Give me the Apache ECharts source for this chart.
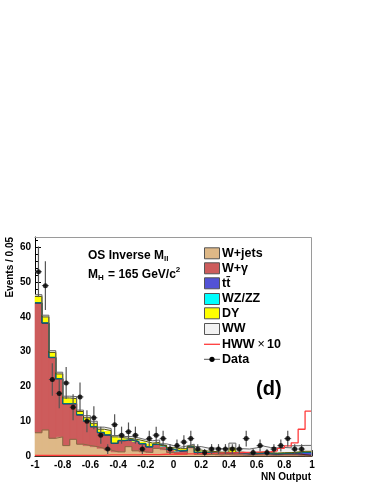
<!DOCTYPE html>
<html><head><meta charset="utf-8">
<script src="https://cdn.jsdelivr.net/npm/echarts@6/dist/echarts.min.js"></script>
<style>html,body{margin:0;padding:0;background:#fff}#c{width:374px;height:484px}</style>
</head><body><div id="c"></div>
<script>
// ---- data ----
const binLow = [-1,-0.95,-0.9,-0.85,-0.8,-0.75,-0.7,-0.65,-0.6,-0.55,-0.5,-0.45,-0.4,-0.35,-0.3,-0.25,-0.2,-0.15,-0.1,-0.05,
                0,0.05,0.1,0.15,0.2,0.25,0.3,0.35,0.4,0.45,0.5,0.55,0.6,0.65,0.7,0.75,0.8,0.85,0.9,0.95];
const binWidth = 0.05;
const wjets  = [6.7,7.5,5.1,5.5,3.0,4.8,3.4,3.0,2.7,2.2,1.7,1.2,1.2,2.7,1.5,1.2,1.0,2.2,1.8,1.0,
                0.6,0.5,2.4,0.5,0.4,0.5,0.3,0.4,0.3,0.3,0.2,0.3,0.3,0.3,0.2,0.3,0.3,0.3,0.2,0.1];
const wgamma = [37.3,30.7,23.2,16.7,12.0,10.2,8.4,7.0,5.7,4.5,4.3,2.4,3.2,1.9,2.6,2.3,1.6,1.1,1.0,0.9,
                0.8,1.0,0.2,0.5,0.5,0.5,0.4,0.4,0.6,0.5,0.4,0.3,0.4,0.3,0.3,0.3,0.3,0.3,0.2,0.1];
const ttbar  = [0.05,0.05,0.05,0.05,0.05,0.05,0.05,0.05,0.05,0.05,0.05,0.05,0.05,0.05,0.05,0.05,0.05,0.05,0.05,0.05,
                0.05,0.05,0.05,0.05,0.05,0.05,0.05,0.05,0.05,0.05,0.05,0.1,0.1,0.1,0.1,0.1,0.2,0.3,0.6,0.8];
const wzzz   = [0.05,0.05,0.05,0.05,0.05,0.05,0.05,0.05,0.05,0.05,0.05,0.05,0.05,0.05,0.05,0.05,0.05,0.05,0.05,0.05,
                0.05,0.05,0.05,0.05,0.05,0.05,0.05,0.05,0.05,0.05,0.05,0.05,0.05,0.05,0.05,0.05,0.05,0.05,0.05,0.05];
const dy     = [1.8,1.7,1.4,1.3,1.6,1.4,0.9,0.9,0.9,0.9,1.2,1.8,0.7,0.3,0.5,0.6,1.0,0.5,0.2,0.4,
                0.6,0.5,0.2,0.6,0.4,0.2,0.3,0.2,1.3,0.2,0.2,0.2,0.2,0.2,0.2,0.2,0.1,0.2,0.3,0.3];
const ww     = [0.5,0.5,0.5,0.5,0.5,0.6,0.4,0.6,0.6,0.6,0.6,0.4,0.4,0.6,0.5,0.5,0.7,0.7,0.4,0.6,
                0.4,0.8,0.5,1.0,0.9,1.0,1.0,1.1,1.4,1.0,1.1,1.4,1.8,1.5,1.5,1.5,1.4,1.8,1.7,1.7];
const hww10  = [0.2,0.2,0.2,0.2,0.2,0.2,0.2,0.2,0.2,0.2,0.3,0.3,0.3,0.3,0.3,0.4,0.4,0.4,0.5,0.5,
                0.5,0.6,0.6,0.7,0.7,0.8,0.8,0.9,0.9,1.0,1.0,1.1,1.2,1.2,1.5,2.2,2.9,3.8,7.7,12.9];
const dataObs = [53,49,22,18,21,14,17,10,11,6,2,9,6,7,6,2,5,6,5,2,
                 3,4,5,2,1,2,2,2,2,2,5,1,3,1,2,3,5,2,2,0];
const yTicks = [0,10,20,30,40,50,60];
const xTicks = [-1,-0.8,-0.6,-0.4,-0.2,0,0.2,0.4,0.6,0.8,1];

// ---- styles ----
const FONT = '"Liberation Sans", Arial, Helvetica, sans-serif';
const comps = [
  {name:'W+jets', vals:wjets,  fill:'#deb887', line:'#8a6a45'},
  {name:'W+γ',    vals:wgamma, fill:'#cd5c5c', line:'#5a1e1e'},
  {name:'tt̄',     vals:ttbar,  fill:'#5252d6', line:'#22227a'},
  {name:'WZ/ZZ',  vals:wzzz,   fill:'#00ffff', line:'#007777'},
  {name:'DY',     vals:dy,     fill:'#ffff00', line:'#555500'},
  {name:'WW',     vals:ww,     fill:'#f2f2f2', line:'#666666'}
];

const chart = echarts.init(document.getElementById('c'), null, {renderer:'canvas'});
const series = [];
let base = binLow.map(() => 0);
comps.forEach((c, ci) => {
  const rects = binLow.map((x, i) => [x, x + binWidth, base[i], base[i] + c.vals[i]]);
  const tops = rects.map(r => r[3]);
  series.push({
    type:'custom', z: 2, silent:true,
    renderItem: (params, api) => {
      const p0 = api.coord([api.value(0), api.value(3)]);
      const p1 = api.coord([api.value(1), api.value(2)]);
      const xa = Math.round(p0[0]), xb = Math.round(p1[0]);
      return {type:'rect', shape:{x:xa, y:p0[1], width:xb-xa, height:p1[1]-p0[1]},
              style:{fill:c.fill, stroke:c.fill, lineWidth:0.6}};
    },
    data: rects
  });
  const outline = binLow.map((x, i) => [x, tops[i]]);
  outline.push([1, tops[tops.length-1]]);
  series.push({
    type:'line', step:'end', z: 3, silent:true, symbol:'none',
    lineStyle:{color:c.line, width:1},
    data: outline
  });
  base = tops;
});
// HWW x10
const hwwLine = binLow.map((x, i) => [x, hww10[i]]);
hwwLine.push([1, hww10[hww10.length-1]]);
series.push({type:'line', step:'end', z:4, silent:true, symbol:'none',
  lineStyle:{color:'#ff3b3b', width:1.3}, data:hwwLine});
// data points + errors
const pts = binLow.map((x, i) => [x + binWidth/2, dataObs[i]]).filter(p => p[1] > 0);
series.push({
  type:'custom', z:5, silent:true,
  renderItem: (params, api) => {
    const x = api.value(0), v = api.value(1), e = Math.sqrt(v);
    const top = api.coord([x, v + e]), bot = api.coord([x, Math.max(0, v - e)]);
    const l = api.coord([x - binWidth/2, v]), r = api.coord([x + binWidth/2, v]);
    return {type:'group', children:[
      {type:'line', shape:{x1:top[0], y1:top[1], x2:bot[0], y2:bot[1]}, style:{stroke:'#555', lineWidth:1.2}},
      {type:'line', shape:{x1:l[0], y1:l[1], x2:r[0], y2:r[1]}, style:{stroke:'#555', lineWidth:1}}
    ]};
  },
  data: pts
});
series.push({type:'scatter', z:6, silent:true, symbol:'circle', symbolSize:5,
  itemStyle:{color:'#000'}, data: pts});

// ---- text helpers ----
const mctx = document.createElement('canvas').getContext('2d');
function tw(str, size){ mctx.font = 'bold ' + size + 'px ' + FONT; return mctx.measureText(str).width; }
function T(x, y, str, size, extra){
  return Object.assign({type:'text', x:x, y:y, silent:true,
    style:Object.assign({text:str, font:'bold ' + size + 'px ' + FONT, fill:'#000',
      textVerticalAlign:'middle', textAlign:'left'}, extra||{})});
}
const g = [];
// labels
let x0 = 88, fs = 12;
g.push(T(x0, 256, 'OS Inverse M', fs));
g.push(T(x0 + tw('OS Inverse M', fs), 259, 'll', 8));
g.push(T(x0, 275, 'M', fs));
let xx = x0 + tw('M', fs);
g.push(T(xx, 278, 'H', 8));
xx += tw('H', 8) + 1;
g.push(T(xx, 275, ' = 165 GeV/c', fs));
xx += tw(' = 165 GeV/c', fs);
g.push(T(xx, 270, '2', 8));
g.push(T(256, 389, '(d)', 20));
g.push(T(311, 477, 'NN Output', 10, {textAlign:'right'}));
g.push({type:'text', x:10, y:237, rotation:Math.PI/2, silent:true,
  style:{text:'Events / 0.05', font:'bold 10px ' + FONT, fill:'#000', textAlign:'right', textVerticalAlign:'middle'}});
// legend
const legY = [253.3, 268.3, 283.3, 299, 313.3, 329, 344.3, 359.3];
comps.forEach((c, i) => {
  g.push({type:'rect', silent:true, shape:{x:204.5, y:legY[i]-5.5, width:15, height:11},
    style:{fill:c.fill, stroke:'#555', lineWidth:1}});
  g.push(T(222, legY[i], c.name, 12.5));
});
g.push({type:'line', silent:true, shape:{x1:204, y1:legY[6], x2:220, y2:legY[6]}, style:{stroke:'#ff3b3b', lineWidth:1.3}});
g.push(T(222, legY[6], 'HWW', 12.5));
g.push(T(222 + tw('HWW', 12.5) + 3, legY[6], '×', 12.5, {font:'12.5px ' + FONT}));
g.push(T(222 + tw('HWW', 12.5) + 3 + tw('×', 12.5) + 2, legY[6], '10', 12.5));
g.push({type:'line', silent:true, shape:{x1:204, y1:legY[7], x2:220, y2:legY[7]}, style:{stroke:'#555', lineWidth:1}});
g.push({type:'circle', silent:true, shape:{cx:212, cy:legY[7], r:2.6}, style:{fill:'#000'}});
g.push(T(222, legY[7], 'Data', 12.5));
// frame (top/right)
g.push({type:'polyline', silent:true, z:10, shape:{points:[[34.5,237.5],[311.5,237.5],[311.5,456]]},
  style:{stroke:'#9a9a9a', fill:null, lineWidth:1}});

chart.setOption({
  animation:false,
  grid:{left:35, right:62, top:237, bottom:28, containLabel:false},
  xAxis:{type:'value', min:-1, max:1, interval:0.2,
    axisLine:{onZero:false, lineStyle:{color:'#000', width:1}},
    axisTick:{inside:true, length:6, lineStyle:{color:'#000'}},
    minorTick:{show:true, splitNumber:5, length:3, lineStyle:{color:'#000'}},
    splitLine:{show:false},
    axisLabel:{color:'#000', fontFamily:FONT, fontWeight:'bold', fontSize:10, margin:4,
      formatter: v => { const r = Math.round(v*10)/10; return xTicks.indexOf(r) >= 0 ? String(r) : ''; }}
  },
  yAxis:{type:'value', min:0, max:63, interval:10,
    axisLine:{show:true, onZero:false, lineStyle:{color:'#000', width:1}},
    axisTick:{show:true, inside:true, length:6, lineStyle:{color:'#000'}},
    minorTick:{show:true, splitNumber:5, length:3, lineStyle:{color:'#000'}},
    splitLine:{show:false},
    axisLabel:{color:'#000', fontFamily:FONT, fontWeight:'bold', fontSize:10, margin:4,
      formatter: v => yTicks.indexOf(v) >= 0 ? String(v) : ''}
  },
  series: series,
  graphic: g
});
</script></body></html>
